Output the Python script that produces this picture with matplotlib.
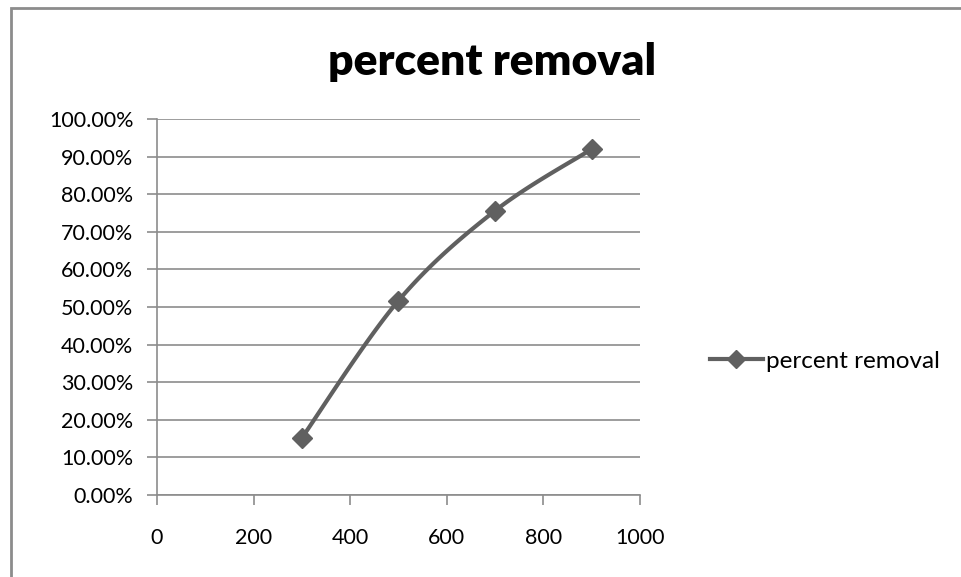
import numpy as np
import matplotlib.pyplot as plt
from matplotlib.patches import Rectangle
from matplotlib.ticker import FuncFormatter, MultipleLocator

# load (x) vs percent removal
x_vals = [300, 500, 700, 900]
removal = [0.152, 0.517, 0.756, 0.920]
series_name = 'percent removal'
x_ticks = [0, 200, 400, 600, 800, 1000]

LINE_COL = '#606060'
GRID_COL = '#8c8c8c'


def smooth_curve(xs, ys, n=40, t=1 / 6):
	# excel-like smoothed line: bezier segments with catmull-rom control points
	xs = np.asarray(xs, float)
	ys = np.asarray(ys, float)
	px, py = [], []
	for i in range(len(xs) - 1):
		p0 = np.array([xs[max(i - 1, 0)], ys[max(i - 1, 0)]])
		p1 = np.array([xs[i], ys[i]])
		p2 = np.array([xs[i + 1], ys[i + 1]])
		p3 = np.array([xs[min(i + 2, len(xs) - 1)], ys[min(i + 2, len(xs) - 1)]])
		c1 = p1 + (p2 - p0) * t
		c2 = p2 - (p3 - p1) * t
		s = np.linspace(0, 1, n)[:, None]
		pts = (1 - s) ** 3 * p1 + 3 * (1 - s) ** 2 * s * c1 + 3 * (1 - s) * s ** 2 * c2 + s ** 3 * p2
		px.extend(pts[:, 0])
		py.extend(pts[:, 1])
	return px, py


plt.rcParams['font.family'] = ['Lato', 'DejaVu Sans']

fig = plt.figure(figsize=(9.61, 5.77), dpi=100)
# chart frame, cut off at the right and bottom
fig.patches.append(Rectangle((11 / 961, -0.1), 1.2, 1 - 8 / 577 + 0.1, transform=fig.transFigure,
	fill=False, edgecolor='#8c8c8c', linewidth=2))

ax = fig.add_axes([157 / 961, 1 - 495 / 577, 483 / 961, 376 / 577])

sx, sy = smooth_curve(x_vals, removal)
ax.plot(sx, sy, color=LINE_COL, linewidth=3, solid_capstyle='round', zorder=3)
ax.plot(x_vals, removal, linestyle='none', marker='D', markersize=10, color=LINE_COL, zorder=4)
# legend proxy
ax.plot([], [], color=LINE_COL, linewidth=3, marker='D', markersize=9, label=series_name)

ax.set_xlim(0, 1000)
ax.set_ylim(0, 1.0)
ax.set_xticks(x_ticks)
ax.yaxis.set_major_locator(MultipleLocator(0.1))
ax.yaxis.set_major_formatter(FuncFormatter(lambda v, p: f'{v * 100:.2f}%'))
ax.grid(axis='y', color=GRID_COL, linewidth=1.2)
ax.set_axisbelow(True)

for side in ['top', 'right']:
	ax.spines[side].set_visible(False)
for side in ['left', 'bottom']:
	ax.spines[side].set_color(GRID_COL)
	ax.spines[side].set_linewidth(1.2)
ax.tick_params(axis='both', colors=GRID_COL, labelcolor='black', labelsize=15.5, length=7, width=1.2)
ax.tick_params(axis='x', pad=17)
ax.tick_params(axis='y', pad=10)

fig.text(492 / 961, 1 - 62 / 577, 'percent removal', ha='center', va='center',
	fontsize=32, fontweight='heavy')

ax.legend(loc='center left', bbox_to_anchor=(700 / 483 - 157 / 483, 1 - (361 - 119) / 376),
	frameon=False, fontsize=17.5, handlelength=2.2, handletextpad=0.1, borderaxespad=0)

plt.savefig('out.png', dpi=100)
